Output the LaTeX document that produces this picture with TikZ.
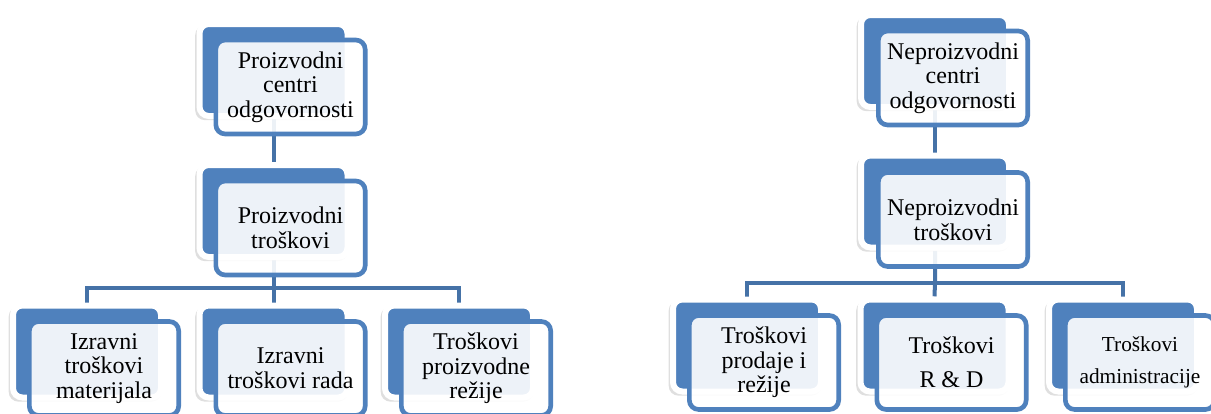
\documentclass[tikz,border=0pt]{standalone}
\usepackage{fontspec}
\setmainfont{Liberation Serif}
\usetikzlibrary{shadows,backgrounds}
\definecolor{boxblue}{RGB}{79,129,189}
\definecolor{lineblue}{RGB}{69,114,167}
\begin{document}
\begin{tikzpicture}[x=0.75pt,y=-0.75pt,
		back/.style={rectangle, rounded corners=7pt, fill=boxblue, draw=white, line width=4.5pt,
			minimum width=111pt, minimum height=69pt, inner sep=0,
			drop shadow={shadow xshift=-1.5pt, shadow yshift=-2pt, opacity=0.25, shadow scale=1.03}},
		front/.style={rectangle, rounded corners=7pt, fill=white, fill opacity=0.9, text opacity=1,
			draw=boxblue, line width=3.5pt, minimum width=112pt, minimum height=70.5pt, inner sep=0,
			align=center, font=\fontsize{18}{18.5}\selectfont},
		conn/.style={draw=lineblue, line width=3pt},
	]
	\useasboundingbox (0,0) rectangle (1211,414);
	% production side
	\node[back] (pc) at (273.5,70) {};
	\node[front] (pcT) at ([shift={(17,17)}]pc.center) {Proizvodni\\centri\\odgovornosti};
	\node[back] (pt) at (273.5,211) {};
	\node[front] (ptT) at ([shift={(17,17)}]pt.center) {Proizvodni\\troškovi};
	\node[back] (lc1) at (87,351.5) {};
	\node[front] (lc1T) at ([shift={(17,17)}]lc1.center) {Izravni\\troškovi\\materijala};
	\node[back] (lc2) at (273.5,351.5) {};
	\node[front] (lc2T) at ([shift={(17,17)}]lc2.center) {Izravni\\troškovi rada};
	\node[back] (lc3) at (459,351.5) {};
	\node[front] (lc3T) at ([shift={(17,17)}]lc3.center) {Troškovi\\proizvodne\\režije};
	% non-production side
	\node[back] (nc) at (935,61) {};
	\node[front] (ncT) at ([shift={(18,17)}]nc.center) {Neproizvodni\\centri\\odgovornosti};
	\node[back] (nt) at (935,201.5) {};
	\node[front] (ntT) at ([shift={(18,18)}]nt.center) {Neproizvodni\\troškovi};
	\node[back] (rc1) at (747,345.5) {};
	\node[front] (rc1T) at ([shift={(17,17)}]rc1.center) {Troškovi\\prodaje i\\režije};
	\node[back] (rc2) at (934.5,345.5) {};
	\node[front] (rc2T) at ([shift={(17,17)}]rc2.center) {Troškovi\\[7pt]R \& D};
	\node[back] (rc3) at (1123,345.5) {};
	\node[front, font=\fontsize{16}{16}\selectfont] (rc3T) at ([shift={(17,17)}]rc3.center) {Troškovi\\[8pt]administracije};
	\begin{pgfonlayer}{background}
		\draw[conn] (pc) -- (pt);
		\coordinate (lbus) at (273.5,288);
		\draw[conn] (pt) -- (lbus) -- (lc2.north);
		\draw[conn] (lc1.north) |- (lbus) -| (lc3.north);
		\draw[conn] (nc) -- (nt);
		\coordinate (rbus) at (935,283);
		\draw[conn] (nt) -- (rbus) -- (rc2.north);
		\draw[conn] (rc1.north) |- (rbus) -| (rc3.north);
	\end{pgfonlayer}
\end{tikzpicture}
\end{document}
